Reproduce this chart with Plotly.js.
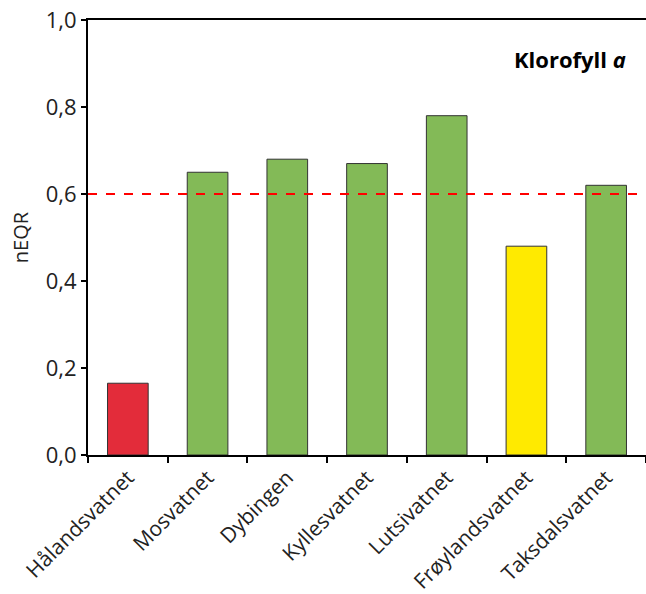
<!DOCTYPE html>
<html>
<head>
<meta charset="utf-8">
<script src="https://cdn.plot.ly/plotly-3.0.1.min.js"></script>
<style>html,body{margin:0;padding:0;background:#fff;}#chart{width:646px;height:594px;}</style>
</head>
<body>
<div id="chart"></div>
<script>
const lakes = ["Hålandsvatnet","Mosvatnet","Dybingen","Kyllesvatnet","Lutsivatnet","Frøylandsvatnet","Taksdalsvatnet"];
const neqr = [0.165, 0.65, 0.68, 0.67, 0.78, 0.48, 0.62];
const barColors = ["#E32C3A","#83BA57","#83BA57","#83BA57","#83BA57","#FFEA00","#83BA57"];
const threshold = 0.6;
const yTicks = [0, 0.2, 0.4, 0.6, 0.8, 1.0];

const font = "Open Sans, DejaVu Sans, sans-serif";

Plotly.newPlot("chart", [{
  type: "bar",
  x: lakes,
  y: neqr,
  width: 0.51,
  marker: {color: barColors, line: {color: "#333333", width: 1}},
  hoverinfo: "none"
}], {
  width: 646, height: 594,
  margin: {l: 88, r: 0, t: 20, b: 139},
  paper_bgcolor: "#fff", plot_bgcolor: "#fff",
  separators: ",.",
  showlegend: false,
  font: {family: font, color: "#222", size: 20},
  xaxis: {
    type: "category",
    showline: true, linecolor: "#000", linewidth: 2, mirror: true,
    ticks: "outside", tickson: "boundaries", ticklen: 6, tickwidth: 2, tickcolor: "#000",
    tickangle: -45, tickfont: {family: font, size: 21, color: "#222"},
    showgrid: false, zeroline: false, fixedrange: true
  },
  yaxis: {
    range: [0, 1.0],
    tickvals: yTicks, tickformat: ".1f",
    showline: true, linecolor: "#000", linewidth: 2,
    ticks: "outside", ticklen: 5, tickwidth: 2, tickcolor: "#000",
    tickfont: {family: font, size: 22, color: "#222"},
    showgrid: false, zeroline: false,
    title: {text: "nEQR", font: {family: font, size: 20, color: "#222"}, standoff: 12}
  },
  shapes: [{
    type: "line", xref: "paper", yref: "y",
    x0: 0, x1: 1, y0: threshold, y1: threshold,
    line: {color: "#FF0000", width: 2, dash: "dash"}
  }],
  annotations: [{
    xref: "paper", yref: "paper", x: 0.968, y: 0.91,
    xanchor: "right", yanchor: "middle",
    text: "<b>Klorofyll <i>a</i></b>", showarrow: false,
    font: {family: font, size: 22, color: "#000"}
  }]
}, {staticPlot: true});
</script>
</body>
</html>
